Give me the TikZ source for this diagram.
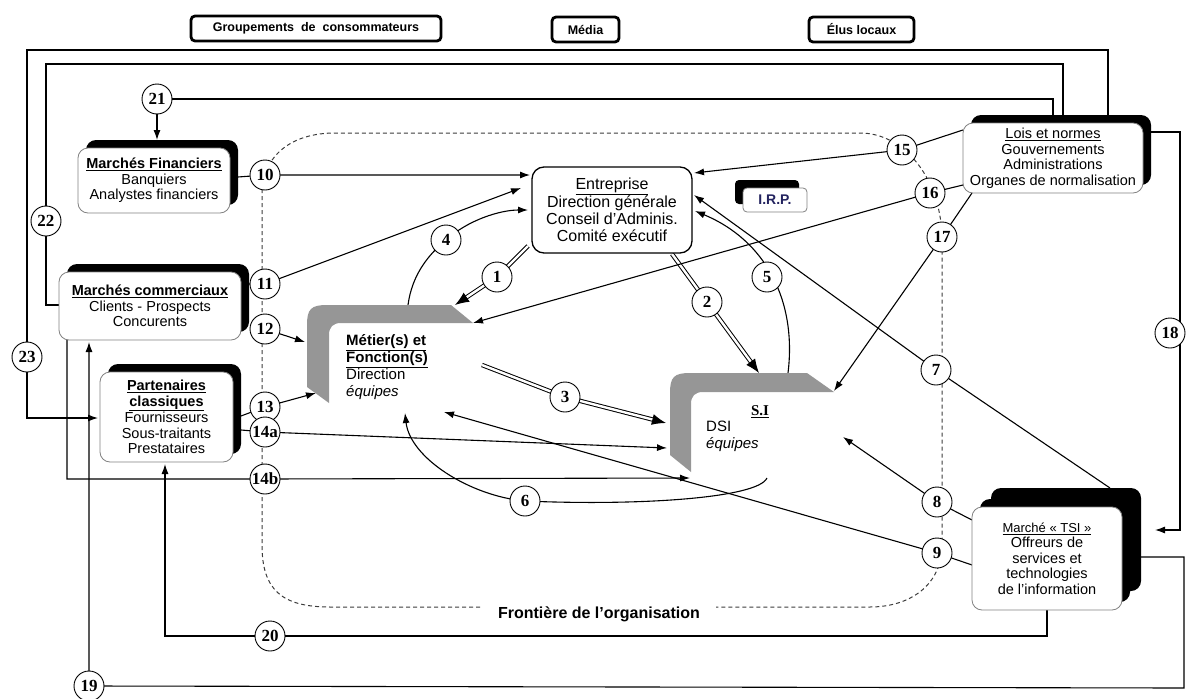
\documentclass[tikz,border=0pt]{standalone}
\usepackage{fontspec}
\setmainfont{Liberation Sans}
\newfontfamily\numfont{Liberation Serif}
\usetikzlibrary{arrows.meta,shadows}
\pgfdeclarelayer{background}
\pgfsetlayers{background,main}
\definecolor{siGray}{RGB}{150,150,150}
\definecolor{bordGray}{RGB}{130,130,130}
\definecolor{irpBlue}{RGB}{35,35,95}
\definecolor{dashGray}{RGB}{60,60,60}
\begin{document}
\begin{tikzpicture}[x=1pt,y=-1pt,
  topbox/.style={draw=black,line width=2.8pt,fill=white,rounded corners=4pt,inner sep=0pt,minimum height=25pt,font=\bfseries\fontsize{12.5}{14}\selectfont},
  sbox/.style={draw=bordGray,line width=0.8pt,fill=white,rounded corners=10pt,align=center,inner sep=1pt,font=\fontsize{14.5}{15.5}\selectfont,drop shadow={shadow xshift=8pt,shadow yshift=8pt,opacity=1,fill=black}},
  num/.style={circle,draw=black,line width=0.9pt,fill=white,minimum size=30pt,inner sep=0pt,font=\numfont\bfseries\fontsize{17}{17}\selectfont},
  conn/.style={draw=black,line width=1.1pt},
  arr/.style={conn,-{Latex[length=10pt,width=7pt]}},
  dbl/.style={draw=black,double=white,double distance=2.4pt,line width=1pt,-{Latex[length=14pt,width=11pt]}},
  boundary/.style={draw=dashGray,line width=1pt,dash pattern=on 4pt off 3pt}
]
\useasboundingbox (0,0) rectangle (1187,699);

% gray open frames
\fill[siGray] (307,387) -- (307,325) .. controls (307,309) and (311,305) .. (327,305) -- (451,305) -- (473,323) -- (341,323) .. controls (333,323) and (329,327) .. (329,335) -- (329,403) -- cycle;
\fill[siGray] (670,455) -- (670,393) .. controls (670,377) and (674,373) .. (690,373) -- (807,373) -- (834,392) -- (703,392) .. controls (695,392) and (691,396) .. (691,404) -- (691,472) -- cycle;

% top boxes
\node[topbox,minimum width=250pt] (grp) at (316,28.5) {Groupements~~de~~consommateurs};
\node[topbox,minimum width=67pt] (media) at (585.5,29.5) {Média};
\node[topbox,minimum width=105pt] (elus) at (861.5,29.5) {Élus locaux};

% shadowed boxes
\node[sbox,minimum width=152pt,minimum height=65pt] (mf) at (154,180.5) {\underline{\textbf{Marchés Financiers}}\\Banquiers\\Analystes financiers};
\node[sbox,minimum width=182pt,minimum height=68pt] (mc) at (150,306) {\underline{\textbf{Marchés commerciaux}}\\Clients - Prospects\\Concurents};
\node[sbox,minimum width=133pt,minimum height=90pt] (pa) at (166.5,417) {\underline{\textbf{Partenaires}}\\\underline{\textbf{classiques}}\\Fournisseurs\\Sous-traitants\\Prestataires};
\node[sbox,minimum width=180pt,minimum height=70pt] (lois) at (1053,158) {\underline{Lois et normes}\\Gouvernements\\Administrations\\Organes de normalisation};
\node[sbox,minimum width=150pt,minimum height=103pt,drop shadow={shadow xshift=19pt,shadow yshift=19pt,opacity=1,fill=black}] (tsi) at (1047,558.5) {{\fontsize{13}{15}\selectfont\underline{Marché «~TSI~»}}\\Offreurs de\\services et\\technologies\\de l'information};
\node[draw=bordGray,line width=0.8pt,fill=white,rounded corners=4pt,minimum width=64pt,minimum height=24pt,font=\bfseries\fontsize{14}{15}\selectfont,text=irpBlue,drop shadow={shadow xshift=-8pt,shadow yshift=8pt,opacity=1,fill=black}] (irp) at (775,200) {I.R.P.};

% entreprise
\node[draw=black,line width=1.3pt,fill=white,rounded corners=12pt,minimum width=160pt,minimum height=86pt,align=center,inner sep=1pt,font=\fontsize{16}{17}\selectfont] (ent) at (612,210) {\underline{Entreprise}\\Direction générale\\Conseil d'Adminis.\\Comité exécutif};

% métier and SI texts
\node[anchor=north west,align=left,inner sep=0pt,font=\fontsize{15}{17}\selectfont] (mettxt) at (346,334) {\underline{\textbf{Métier(s) et}}\\\underline{\textbf{Fonction(s)}}\\Direction\\\textit{équipes}};
\node[font=\numfont\bfseries\fontsize{15}{17}\selectfont,inner sep=0pt] (sititle) at (760,412) {\underline{S.I}};
\node[anchor=north west,align=left,inner sep=0pt,font=\fontsize{15}{17}\selectfont] (sitxt) at (706,421) {DSI\\\textit{équipes}};

% boundary label
\node[font=\bfseries\fontsize{16}{18}\selectfont,inner sep=1pt] (front) at (599,614) {Frontière de l'organisation};

% number circles
\node[num] (c1) at (497,277) {1};
\node[num] (c2) at (707,302) {2};
\node[num] (c3) at (565,397) {3};
\node[num] (c4) at (446,240) {4};
\node[num] (c5) at (767,277) {5};
\node[num] (c6) at (525,501) {6};
\node[num] (c7) at (936,370) {7};
\node[num] (c8) at (937,502) {8};
\node[num] (c9) at (937,553) {9};
\node[num] (c10) at (265,175) {10};
\node[num] (c11) at (265,284) {11};
\node[num] (c12) at (265,329) {12};
\node[num] (c13) at (265,407) {13};
\node[num] (c14a) at (265,432) {14a};
\node[num] (c14b) at (265,479) {14b};
\node[num] (c15) at (902,150) {15};
\node[num] (c16) at (930,193) {16};
\node[num] (c17) at (942,237) {17};
\node[num] (c18) at (1170,333) {18};
\node[num] (c19) at (89,686) {19};
\node[num] (c20) at (270,636) {20};
\node[num] (c21) at (157,99) {21};
\node[num] (c22) at (46,221) {22};
\node[num] (c23) at (27,357) {23};

% connector end points
\coordinate (mf10) at (238,177);
\coordinate (ent10) at (530,175);
\coordinate (mc11) at (249,284);
\coordinate (ent11) at (521,188);
\coordinate (met12) at (305,342);
\coordinate (pa13) at (241,416);
\coordinate (met13) at (316,393);
\coordinate (pa14) at (241,430);
\coordinate (si14a) at (667,448);
\coordinate (mc14) at (67,340);
\coordinate (k14) at (67,479);
\coordinate (si14b) at (690,478);
\coordinate (ent1) at (528,246);
\coordinate (met1) at (455,305);
\coordinate (ent2) at (672,254);
\coordinate (si2) at (759,373);
\coordinate (met3) at (482,365);
\coordinate (si3) at (666,423);
\coordinate (met4) at (408,305);
\coordinate (ent4) at (528,210);
\coordinate (si5) at (788,373);
\coordinate (ent5) at (695,211);
\coordinate (si6) at (767,478);
\coordinate (met6) at (405,413);
\coordinate (tsi7) at (1110,488);
\coordinate (ent7) at (694,195);
\coordinate (tsi8) at (972,520);
\coordinate (si8) at (843,437);
\coordinate (tsi9) at (972,565);
\coordinate (met9) at (444,412);
\coordinate (lo15) at (963,130);
\coordinate (ent15) at (694,173);
\coordinate (lo16) at (963,185);
\coordinate (met16) at (473,323);
\coordinate (lo17) at (972,193);
\coordinate (si17) at (834,391);
\coordinate (lo18) at (1151,132);
\coordinate (k18a) at (1180,132);
\coordinate (k18b) at (1180,530);
\coordinate (tsi18) at (1155,530);
\coordinate (tsi19) at (1141,557);
\coordinate (k19a) at (1184,557);
\coordinate (k19b) at (1184,688);
\coordinate (mc19) at (89,342);
\coordinate (tsi20) at (1047,610);
\coordinate (k20a) at (1047,636);
\coordinate (k20b) at (165,636);
\coordinate (pa20) at (165,464);
\coordinate (lo21) at (1053,115);
\coordinate (k21) at (1053,99);
\coordinate (mf21) at (157,140);
\coordinate (lo22) at (1063,115);
\coordinate (k22a) at (1063,64);
\coordinate (k22b) at (46,64);
\coordinate (k22c) at (46,305);
\coordinate (mc22) at (59,305);
\coordinate (lo23) at (1108,115);
\coordinate (k23a) at (1108,50);
\coordinate (k23b) at (27,50);
\coordinate (k23c) at (27,418);
\coordinate (pa23) at (98,418);

\begin{pgfonlayer}{background}
\draw[boundary] (480,607) -- (330,607) .. controls (282,607) and (262,590) .. (262,545) -- (262,195) .. controls (262,155) and (292,133) .. (335,133) -- (860,133) .. controls (905,133) and (942,180) .. (942,240) -- (942,545) .. controls (942,585) and (910,607) .. (870,607) -- (716,607);

\draw[arr] (mf10) -- (c10.center) -- (ent10);
\draw[arr] (mc11) -- (c11.center) -- (ent11);
\draw[arr] (c12.center) -- (met12);
\draw[arr] (pa13) -- (c13.center) -- (met13);
\draw[arr] (pa14) -- (c14a.center) -- (si14a);
\draw[arr] (mc14) -- (k14) -- (c14b.center) -- (si14b);
\draw[dbl] (ent1) -- (c1.center) -- (met1);
\draw[dbl] (ent2) -- (c2.center) -- (si2);
\draw[dbl] (met3) -- (c3.center) -- (si3);
\draw[arr] (met4) .. controls (412,275) and (428,255) .. (c4.center) .. controls (468,220) and (500,210) .. (ent4);
\draw[arr] (si5) .. controls (797,300) and (765,240) .. (ent5);
\draw[arr] (si6) .. controls (758,498) and (640,506) .. (c6.center) .. controls (470,496) and (410,458) .. (met6);
\draw[arr] (tsi7) -- (c7.center) -- (ent7);
\draw[arr] (tsi8) -- (c8.center) -- (si8);
\draw[arr] (tsi9) -- (c9.center) -- (met9);
\draw[arr] (lo15) -- (c15.center) -- (ent15);
\draw[arr] (lo16) -- (c16.center) -- (met16);
\draw[arr] (lo17) -- (c17.center) -- (si17);
\draw[arr] (lo18) -- (k18a) -- (k18b) -- (tsi18);
\draw[arr] (tsi19) -- (k19a) -- (k19b) -- (c19.center) -- (mc19);
\draw[arr] (tsi20) -- (k20a) -- (c20.center) -- (k20b) -- (pa20);
\draw[conn] (lo21) -- (k21) -- (c21.center);
\draw[arr] (c21) -- (mf21);
\draw[conn] (lo22) -- (k22a) -- (k22b) -- (c22.center) -- (k22c) -- (mc22);
\draw[arr] (lo23) -- (k23a) -- (k23b) -- (c23.center) -- (k23c) -- (pa23);
\end{pgfonlayer}
\end{tikzpicture}
\end{document}
